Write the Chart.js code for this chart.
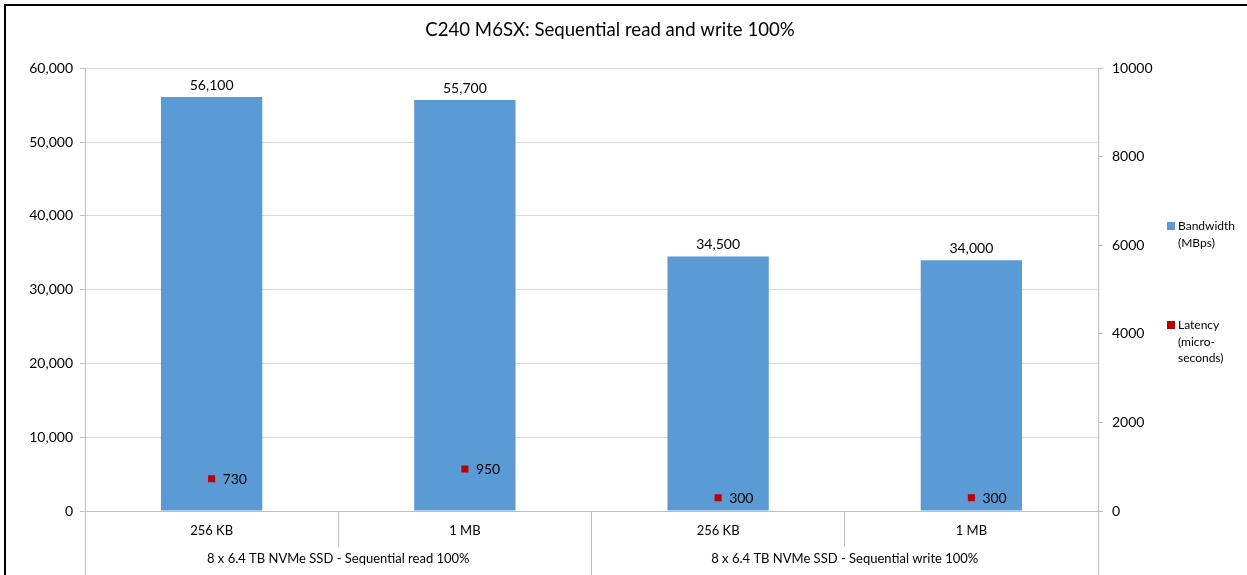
<!DOCTYPE html>
<html>
<head>
<meta charset="utf-8">
<title>C240 M6SX</title>
<script src="https://cdn.jsdelivr.net/npm/chart.js@4.4.1/dist/chart.umd.min.js"></script>
<style>
html, body { margin:0; padding:0; background:#fff; overflow:hidden; }
#frame { position:absolute; left:4px; top:4px; width:1243px; height:571px; border-top:2px solid #000; border-left:2px solid #000; box-sizing:border-box; }
#wrap { position:relative; width:1241px; height:569px; }
.leg { position:absolute; left:1167px; width:70px; font:12px Lato, sans-serif; line-height:16.5px; color:#000; }
.leg i { position:absolute; left:0; top:4px; width:8px; height:8px; }
.leg span { display:block; margin-left:11px; }
</style>
</head>
<body>
<div id="frame"><div id="wrap"><canvas id="myChart" width="1241" height="569"></canvas></div></div>
<div id="legend"></div>
<script>
var titulo = "C240 M6SX: Sequential read and write 100%";
var bloques = ["256 KB", "1 MB", "256 KB", "1 MB"];
var grupos = ["8 x 6.4 TB NVMe SSD - Sequential read 100%", "8 x 6.4 TB NVMe SSD - Sequential write 100%"];
var bandwidth = [56100, 55700, 34500, 34000];
var latency = [730, 950, 300, 300];
var nombres = ["Bandwidth (MBps)", "Latency (micro-seconds)"];
var colores = ["#5b9bd5", "#c00000"];

var fuente = "Lato, sans-serif";
function miles(v){ return Number(v).toLocaleString("en-US"); }

// etiquetas de valores encima de las barras y al lado de los puntos
var etiquetas = {
    id: "etiquetas",
    afterDatasetsDraw: function(chart){
        var ctx = chart.ctx;
        ctx.save();
        ctx.font = "14px " + fuente;
        ctx.fillStyle = "#000";
        chart.getDatasetMeta(0).data.forEach(function(bar, i){
            ctx.textAlign = "center";
            ctx.textBaseline = "bottom";
            ctx.fillText(miles(bandwidth[i]), bar.x, bar.y - 5);
        });
        chart.getDatasetMeta(1).data.forEach(function(pt, i){
            ctx.textAlign = "left";
            ctx.textBaseline = "middle";
            ctx.fillText(latency[i], pt.x + 11, pt.y + 1);
        });
        ctx.restore();
    }
};

var ctx = document.getElementById("myChart").getContext("2d");
var chart = new Chart(ctx, {
    type: "bar",
    data: {
        labels: bloques,
        datasets: [
            { label: nombres[0], data: bandwidth, backgroundColor: colores[0], yAxisID: "y",
              barPercentage: 0.4, categoryPercentage: 1.0, order: 2 },
            { label: nombres[1], type: "line", data: latency, yAxisID: "y1", showLine: false,
              pointStyle: "rect", pointRadius: 5, pointBackgroundColor: colores[1],
              pointBorderColor: colores[1], pointBorderWidth: 0, order: 1 }
        ]
    },
    options: {
        responsive: false,
        animation: false,
        layout: { padding: { left: 0, right: 33, top: 0, bottom: 0 } },
        plugins: {
            legend: { display: false },
            tooltip: { enabled: false },
            title: { display: true, text: titulo, color: "#000",
                     font: { family: fuente, size: 18.6, weight: "normal" },
                     padding: { top: 13, bottom: 27 } }
        },
        scales: {
            x: {
                position: "bottom",
                grid: { offset: true, drawOnChartArea: false, tickLength: 36, color: "#bfbfbf" },
                border: { color: "#bfbfbf" },
                ticks: { padding: -24, maxRotation: 0, color: "#000", font: { family: fuente, size: 13 } },
                afterFit: function(s){ s.height = 28; }
            },
            x2: {
                type: "category",
                position: "bottom",
                labels: grupos,
                offset: true,
                grid: { offset: true, drawOnChartArea: false, tickLength: 40, color: "#bfbfbf" },
                border: { display: false },
                ticks: { padding: -28, maxRotation: 0, color: "#000", font: { family: fuente, size: 13 } },
                afterFit: function(s){ s.height = 36; }
            },
            y: {
                position: "left",
                min: 0, max: 60000,
                ticks: { stepSize: 10000, padding: 7, color: "#000", font: { family: fuente, size: 14 },
                         callback: function(v){ return miles(v); } },
                grid: { color: "#d9d9d9", tickLength: 5, tickColor: "#bfbfbf" },
                border: { color: "#bfbfbf" },
                afterFit: function(s){ s.width = 79; }
            },
            y1: {
                position: "right",
                min: 0, max: 10000,
                ticks: { stepSize: 2000, padding: 9, color: "#000", font: { family: fuente, size: 14 },
                         callback: function(v){ return String(v); } },
                grid: { drawOnChartArea: false, tickLength: 5, color: "#bfbfbf" },
                border: { color: "#bfbfbf" },
                afterFit: function(s){ s.width = 116; }
            }
        }
    },
    plugins: [etiquetas]
});

// leyenda a la derecha, con el texto partido como en el original
var tops = [218, 317];
var leyenda = document.getElementById("legend");
chart.data.datasets.forEach(function(ds, i){
    var d = document.createElement("div");
    d.className = "leg";
    d.style.top = tops[i] + "px";
    d.innerHTML = '<i style="background:' + colores[i] + '"></i><span>' + ds.label + '</span>';
    leyenda.appendChild(d);
});
</script>
</body>
</html>
